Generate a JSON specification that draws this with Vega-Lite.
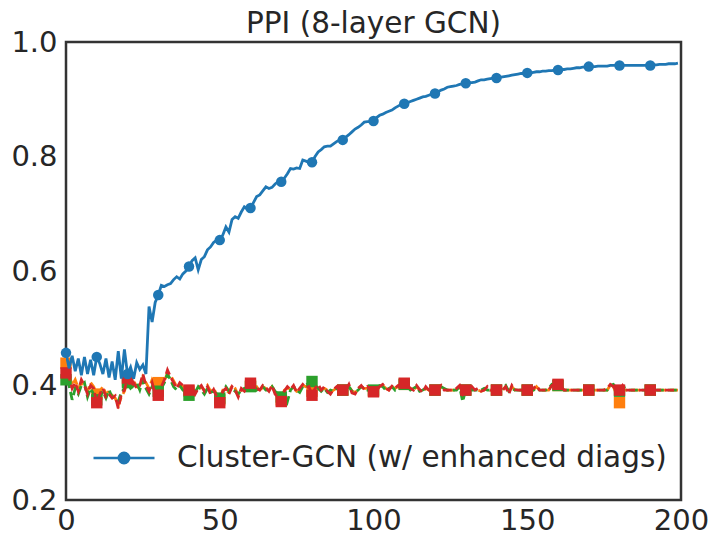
{
  "$schema": "https://vega.github.io/schema/vega-lite/v6.json",
  "autosize": "none",
  "width": 615,
  "height": 458,
  "padding": {"left": 66, "top": 42, "right": 31, "bottom": 35},
  "background": "white",
  "config": {
    "view": {"stroke": "#333333", "strokeWidth": 2.5},
    "font": "DejaVu Sans",
    "axis": {"domain": false, "ticks": false, "tickSize": 0, "grid": false, "title": null,
      "labelFont": "DejaVu Sans", "labelFontSize": 29, "labelColor": "#262626",
      "labelOverlap": false, "labelFlush": false, "labelBound": false}
  },
  "title": {"text": "PPI (8-layer GCN)", "font": "DejaVu Sans", "fontSize": 29.5, "fontWeight": "normal", "color": "#262626", "anchor": "middle", "frame": "group", "baseline": "bottom", "offset": -40},
  "data": {"values": [
{"e":0,"v":0.457,"a":0.439,"b":0.410,"c":0.422},
{"e":1,"v":0.430,"a":0.420,"b":0.400,"c":0.415},
{"e":2,"v":0.452,"a":0.400,"b":0.375,"c":0.395},
{"e":3,"v":0.425,"a":0.410,"b":0.395,"c":0.405},
{"e":4,"v":0.447,"a":0.395,"b":0.385,"c":0.390},
{"e":5,"v":0.418,"a":0.405,"b":0.400,"c":0.410},
{"e":6,"v":0.450,"a":0.398,"b":0.405,"c":0.400},
{"e":7,"v":0.420,"a":0.390,"b":0.380,"c":0.385},
{"e":8,"v":0.445,"a":0.405,"b":0.395,"c":0.400},
{"e":9,"v":0.418,"a":0.398,"b":0.385,"c":0.395},
{"e":10,"v":0.450,"a":0.385,"b":0.375,"c":0.370},
{"e":11,"v":0.438,"a":0.390,"b":0.380,"c":0.385},
{"e":12,"v":0.420,"a":0.398,"b":0.390,"c":0.395},
{"e":13,"v":0.447,"a":0.385,"b":0.378,"c":0.380},
{"e":14,"v":0.414,"a":0.390,"b":0.392,"c":0.385},
{"e":15,"v":0.442,"a":0.383,"b":0.380,"c":0.378},
{"e":16,"v":0.410,"a":0.378,"b":0.375,"c":0.382},
{"e":17,"v":0.460,"a":0.365,"b":0.372,"c":0.360},
{"e":18,"v":0.412,"a":0.380,"b":0.388,"c":0.385},
{"e":19,"v":0.463,"a":0.390,"b":0.395,"c":0.392},
{"e":20,"v":0.420,"a":0.408,"b":0.405,"c":0.413},
{"e":21,"v":0.432,"a":0.400,"b":0.395,"c":0.398},
{"e":22,"v":0.412,"a":0.408,"b":0.400,"c":0.405},
{"e":23,"v":0.440,"a":0.398,"b":0.405,"c":0.395},
{"e":24,"v":0.428,"a":0.395,"b":0.392,"c":0.400},
{"e":25,"v":0.436,"a":0.415,"b":0.410,"c":0.420},
{"e":26,"v":0.420,"a":0.405,"b":0.395,"c":0.400},
{"e":27,"v":0.538,"a":0.395,"b":0.385,"c":0.390},
{"e":28,"v":0.511,"a":0.410,"b":0.398,"c":0.405},
{"e":29,"v":0.545,"a":0.400,"b":0.392,"c":0.385},
{"e":30,"v":0.558,"a":0.405,"b":0.390,"c":0.383},
{"e":31,"v":0.575,"a":0.400,"b":0.395,"c":0.398},
{"e":32,"v":0.573,"a":0.408,"b":0.405,"c":0.410},
{"e":33,"v":0.576,"a":0.422,"b":0.420,"c":0.427},
{"e":34,"v":0.578,"a":0.418,"b":0.410,"c":0.415},
{"e":35,"v":0.585,"a":0.408,"b":0.398,"c":0.405},
{"e":36,"v":0.590,"a":0.398,"b":0.392,"c":0.395},
{"e":37,"v":0.586,"a":0.402,"b":0.400,"c":0.405},
{"e":38,"v":0.595,"a":0.398,"b":0.392,"c":0.400},
{"e":39,"v":0.600,"a":0.395,"b":0.388,"c":0.392},
{"e":40,"v":0.608,"a":0.390,"b":0.383,"c":0.392},
{"e":41,"v":0.618,"a":0.395,"b":0.392,"c":0.398},
{"e":42,"v":0.623,"a":0.390,"b":0.388,"c":0.385},
{"e":43,"v":0.602,"a":0.392,"b":0.398,"c":0.395},
{"e":44,"v":0.620,"a":0.398,"b":0.392,"c":0.400},
{"e":45,"v":0.625,"a":0.392,"b":0.385,"c":0.390},
{"e":46,"v":0.637,"a":0.400,"b":0.395,"c":0.398},
{"e":47,"v":0.642,"a":0.390,"b":0.388,"c":0.385},
{"e":48,"v":0.650,"a":0.395,"b":0.390,"c":0.393},
{"e":49,"v":0.654,"a":0.385,"b":0.385,"c":0.380},
{"e":50,"v":0.654,"a":0.375,"b":0.378,"c":0.370},
{"e":51,"v":0.663,"a":0.392,"b":0.388,"c":0.390},
{"e":52,"v":0.677,"a":0.392,"b":0.398,"c":0.395},
{"e":53,"v":0.668,"a":0.388,"b":0.390,"c":0.385},
{"e":54,"v":0.690,"a":0.400,"b":0.395,"c":0.398},
{"e":55,"v":0.695,"a":0.395,"b":0.390,"c":0.392},
{"e":56,"v":0.692,"a":0.383,"b":0.385,"c":0.380},
{"e":57,"v":0.703,"a":0.392,"b":0.392,"c":0.395},
{"e":58,"v":0.712,"a":0.392,"b":0.395,"c":0.390},
{"e":59,"v":0.708,"a":0.395,"b":0.392,"c":0.398},
{"e":60,"v":0.710,"a":0.400,"b":0.398,"c":0.404},
{"e":61,"v":0.720,"a":0.398,"b":0.402,"c":0.400},
{"e":62,"v":0.730,"a":0.398,"b":0.392,"c":0.395},
{"e":63,"v":0.733,"a":0.390,"b":0.395,"c":0.392},
{"e":64,"v":0.740,"a":0.398,"b":0.398,"c":0.400},
{"e":65,"v":0.747,"a":0.395,"b":0.392,"c":0.396},
{"e":66,"v":0.744,"a":0.392,"b":0.392,"c":0.390},
{"e":67,"v":0.746,"a":0.398,"b":0.398,"c":0.400},
{"e":68,"v":0.752,"a":0.388,"b":0.390,"c":0.385},
{"e":69,"v":0.756,"a":0.383,"b":0.385,"c":0.380},
{"e":70,"v":0.756,"a":0.375,"b":0.380,"c":0.372},
{"e":71,"v":0.762,"a":0.392,"b":0.388,"c":0.390},
{"e":72,"v":0.770,"a":0.395,"b":0.372,"c":0.398},
{"e":73,"v":0.779,"a":0.395,"b":0.392,"c":0.393},
{"e":74,"v":0.778,"a":0.398,"b":0.398,"c":0.400},
{"e":75,"v":0.780,"a":0.390,"b":0.392,"c":0.388},
{"e":76,"v":0.779,"a":0.392,"b":0.388,"c":0.395},
{"e":77,"v":0.794,"a":0.400,"b":0.398,"c":0.402},
{"e":78,"v":0.792,"a":0.398,"b":0.400,"c":0.396},
{"e":79,"v":0.790,"a":0.400,"b":0.405,"c":0.398},
{"e":80,"v":0.790,"a":0.390,"b":0.407,"c":0.383},
{"e":81,"v":0.800,"a":0.398,"b":0.400,"c":0.395},
{"e":82,"v":0.808,"a":0.400,"b":0.395,"c":0.402},
{"e":83,"v":0.812,"a":0.392,"b":0.390,"c":0.392},
{"e":84,"v":0.817,"a":0.395,"b":0.395,"c":0.398},
{"e":85,"v":0.818,"a":0.392,"b":0.388,"c":0.390},
{"e":86,"v":0.818,"a":0.388,"b":0.392,"c":0.385},
{"e":87,"v":0.822,"a":0.392,"b":0.390,"c":0.393},
{"e":88,"v":0.826,"a":0.395,"b":0.395,"c":0.398},
{"e":89,"v":0.829,"a":0.392,"b":0.395,"c":0.392},
{"e":90,"v":0.829,"a":0.392,"b":0.392,"c":0.392},
{"e":91,"v":0.834,"a":0.392,"b":0.395,"c":0.392},
{"e":92,"v":0.838,"a":0.400,"b":0.398,"c":0.402},
{"e":93,"v":0.843,"a":0.390,"b":0.390,"c":0.387},
{"e":94,"v":0.848,"a":0.388,"b":0.388,"c":0.385},
{"e":95,"v":0.851,"a":0.392,"b":0.392,"c":0.395},
{"e":96,"v":0.855,"a":0.398,"b":0.398,"c":0.400},
{"e":97,"v":0.860,"a":0.395,"b":0.395,"c":0.393},
{"e":98,"v":0.861,"a":0.395,"b":0.392,"c":0.398},
{"e":99,"v":0.861,"a":0.392,"b":0.395,"c":0.392},
{"e":100,"v":0.862,"a":0.390,"b":0.392,"c":0.389},
{"e":101,"v":0.868,"a":0.392,"b":0.395,"c":0.392},
{"e":102,"v":0.872,"a":0.398,"b":0.400,"c":0.398},
{"e":103,"v":0.874,"a":0.400,"b":0.398,"c":0.402},
{"e":104,"v":0.877,"a":0.395,"b":0.392,"c":0.395},
{"e":105,"v":0.879,"a":0.392,"b":0.395,"c":0.392},
{"e":106,"v":0.881,"a":0.398,"b":0.398,"c":0.399},
{"e":107,"v":0.885,"a":0.395,"b":0.392,"c":0.395},
{"e":108,"v":0.888,"a":0.398,"b":0.398,"c":0.400},
{"e":109,"v":0.891,"a":0.400,"b":0.400,"c":0.402},
{"e":110,"v":0.892,"a":0.402,"b":0.402,"c":0.404},
{"e":111,"v":0.894,"a":0.398,"b":0.398,"c":0.400},
{"e":112,"v":0.896,"a":0.395,"b":0.392,"c":0.395},
{"e":113,"v":0.898,"a":0.392,"b":0.395,"c":0.392},
{"e":114,"v":0.900,"a":0.398,"b":0.398,"c":0.400},
{"e":115,"v":0.902,"a":0.392,"b":0.390,"c":0.393},
{"e":116,"v":0.904,"a":0.390,"b":0.392,"c":0.388},
{"e":117,"v":0.905,"a":0.395,"b":0.395,"c":0.398},
{"e":118,"v":0.907,"a":0.392,"b":0.392,"c":0.392},
{"e":119,"v":0.909,"a":0.392,"b":0.390,"c":0.392},
{"e":120,"v":0.910,"a":0.392,"b":0.392,"c":0.392},
{"e":121,"v":0.913,"a":0.392,"b":0.392,"c":0.395},
{"e":122,"v":0.916,"a":0.398,"b":0.398,"c":0.400},
{"e":123,"v":0.918,"a":0.392,"b":0.395,"c":0.392},
{"e":124,"v":0.921,"a":0.392,"b":0.392,"c":0.392},
{"e":125,"v":0.922,"a":0.392,"b":0.392,"c":0.392},
{"e":126,"v":0.923,"a":0.392,"b":0.392,"c":0.392},
{"e":127,"v":0.924,"a":0.392,"b":0.392,"c":0.395},
{"e":128,"v":0.926,"a":0.398,"b":0.398,"c":0.400},
{"e":129,"v":0.927,"a":0.388,"b":0.372,"c":0.385},
{"e":130,"v":0.928,"a":0.392,"b":0.392,"c":0.392},
{"e":131,"v":0.929,"a":0.392,"b":0.395,"c":0.392},
{"e":132,"v":0.929,"a":0.395,"b":0.392,"c":0.398},
{"e":133,"v":0.930,"a":0.392,"b":0.392,"c":0.392},
{"e":134,"v":0.932,"a":0.392,"b":0.392,"c":0.395},
{"e":135,"v":0.934,"a":0.390,"b":0.392,"c":0.390},
{"e":136,"v":0.934,"a":0.392,"b":0.395,"c":0.392},
{"e":137,"v":0.935,"a":0.395,"b":0.392,"c":0.398},
{"e":138,"v":0.936,"a":0.392,"b":0.392,"c":0.392},
{"e":139,"v":0.937,"a":0.392,"b":0.392,"c":0.392},
{"e":140,"v":0.937,"a":0.392,"b":0.392,"c":0.392},
{"e":141,"v":0.938,"a":0.392,"b":0.392,"c":0.392},
{"e":142,"v":0.939,"a":0.392,"b":0.395,"c":0.392},
{"e":143,"v":0.940,"a":0.398,"b":0.400,"c":0.398},
{"e":144,"v":0.941,"a":0.388,"b":0.390,"c":0.385},
{"e":145,"v":0.942,"a":0.398,"b":0.395,"c":0.400},
{"e":146,"v":0.943,"a":0.392,"b":0.392,"c":0.393},
{"e":147,"v":0.944,"a":0.392,"b":0.392,"c":0.392},
{"e":148,"v":0.945,"a":0.392,"b":0.392,"c":0.392},
{"e":149,"v":0.945,"a":0.392,"b":0.392,"c":0.392},
{"e":150,"v":0.946,"a":0.392,"b":0.392,"c":0.392},
{"e":151,"v":0.946,"a":0.392,"b":0.392,"c":0.392},
{"e":152,"v":0.947,"a":0.392,"b":0.392,"c":0.395},
{"e":153,"v":0.948,"a":0.398,"b":0.395,"c":0.400},
{"e":154,"v":0.948,"a":0.392,"b":0.392,"c":0.392},
{"e":155,"v":0.949,"a":0.392,"b":0.392,"c":0.392},
{"e":156,"v":0.949,"a":0.392,"b":0.392,"c":0.392},
{"e":157,"v":0.950,"a":0.392,"b":0.395,"c":0.392},
{"e":158,"v":0.950,"a":0.400,"b":0.402,"c":0.400},
{"e":159,"v":0.951,"a":0.402,"b":0.400,"c":0.402},
{"e":160,"v":0.951,"a":0.400,"b":0.400,"c":0.402},
{"e":161,"v":0.952,"a":0.395,"b":0.395,"c":0.398},
{"e":162,"v":0.952,"a":0.392,"b":0.392,"c":0.392},
{"e":163,"v":0.953,"a":0.392,"b":0.392,"c":0.392},
{"e":164,"v":0.953,"a":0.392,"b":0.392,"c":0.392},
{"e":165,"v":0.954,"a":0.392,"b":0.392,"c":0.392},
{"e":166,"v":0.955,"a":0.392,"b":0.392,"c":0.392},
{"e":167,"v":0.955,"a":0.392,"b":0.392,"c":0.392},
{"e":168,"v":0.956,"a":0.392,"b":0.392,"c":0.392},
{"e":169,"v":0.956,"a":0.392,"b":0.392,"c":0.392},
{"e":170,"v":0.957,"a":0.392,"b":0.392,"c":0.392},
{"e":171,"v":0.957,"a":0.392,"b":0.392,"c":0.392},
{"e":172,"v":0.957,"a":0.392,"b":0.392,"c":0.392},
{"e":173,"v":0.958,"a":0.392,"b":0.392,"c":0.392},
{"e":174,"v":0.958,"a":0.392,"b":0.392,"c":0.392},
{"e":175,"v":0.958,"a":0.392,"b":0.392,"c":0.392},
{"e":176,"v":0.958,"a":0.392,"b":0.392,"c":0.395},
{"e":177,"v":0.959,"a":0.400,"b":0.400,"c":0.402},
{"e":178,"v":0.959,"a":0.398,"b":0.402,"c":0.398},
{"e":179,"v":0.959,"a":0.385,"b":0.395,"c":0.392},
{"e":180,"v":0.959,"a":0.370,"b":0.390,"c":0.392},
{"e":181,"v":0.959,"a":0.392,"b":0.398,"c":0.400},
{"e":182,"v":0.959,"a":0.392,"b":0.395,"c":0.392},
{"e":183,"v":0.959,"a":0.392,"b":0.392,"c":0.392},
{"e":184,"v":0.959,"a":0.392,"b":0.392,"c":0.392},
{"e":185,"v":0.959,"a":0.392,"b":0.392,"c":0.392},
{"e":186,"v":0.959,"a":0.392,"b":0.392,"c":0.392},
{"e":187,"v":0.959,"a":0.392,"b":0.392,"c":0.392},
{"e":188,"v":0.959,"a":0.392,"b":0.392,"c":0.392},
{"e":189,"v":0.959,"a":0.392,"b":0.392,"c":0.392},
{"e":190,"v":0.959,"a":0.392,"b":0.392,"c":0.392},
{"e":191,"v":0.960,"a":0.392,"b":0.392,"c":0.392},
{"e":192,"v":0.960,"a":0.392,"b":0.392,"c":0.392},
{"e":193,"v":0.961,"a":0.392,"b":0.392,"c":0.392},
{"e":194,"v":0.961,"a":0.392,"b":0.392,"c":0.392},
{"e":195,"v":0.961,"a":0.392,"b":0.392,"c":0.392},
{"e":196,"v":0.962,"a":0.392,"b":0.392,"c":0.392},
{"e":197,"v":0.962,"a":0.392,"b":0.392,"c":0.392},
{"e":198,"v":0.962,"a":0.392,"b":0.392,"c":0.392},
{"e":199,"v":0.963,"a":0.392,"b":0.392,"c":0.392}
  ]},
  "encoding": {
    "x": {"field": "e", "type": "quantitative", "scale": {"domain": [0, 200], "nice": false, "zero": false},
      "axis": {"values": [0, 50, 100, 150, 200], "labelPadding": 6}}
  },
  "layer": [
    {"mark": {"type": "line", "color": "#ff7f0e", "strokeWidth": 2.8, "strokeDash": [9, 4], "clip": true},
     "encoding": {"y": {"field": "a", "type": "quantitative", "scale": {"domain": [0.2, 1.0], "nice": false, "zero": false},
       "axis": {"values": [0.2, 0.4, 0.6, 0.8, 1.0], "format": ".1f", "labelPadding": 9}}}},
    {"transform": [{"filter": "datum.e % 10 == 0"}],
     "mark": {"type": "point", "shape": "square", "filled": true, "opacity": 1, "color": "#ff7f0e", "size": 130},
     "encoding": {"y": {"field": "a", "type": "quantitative"}}},
    {"mark": {"type": "line", "color": "#2ca02c", "strokeWidth": 2.8, "strokeDash": [9, 4], "clip": true},
     "encoding": {"y": {"field": "b", "type": "quantitative"}}},
    {"transform": [{"filter": "datum.e % 10 == 0"}],
     "mark": {"type": "point", "shape": "square", "filled": true, "opacity": 1, "color": "#2ca02c", "size": 130},
     "encoding": {"y": {"field": "b", "type": "quantitative"}}},
    {"mark": {"type": "line", "color": "#d62728", "strokeWidth": 2.8, "strokeDash": [9, 4], "clip": true},
     "encoding": {"y": {"field": "c", "type": "quantitative"}}},
    {"transform": [{"filter": "datum.e % 10 == 0"}],
     "mark": {"type": "point", "shape": "square", "filled": true, "opacity": 1, "color": "#d62728", "size": 130},
     "encoding": {"y": {"field": "c", "type": "quantitative"}}},
    {"mark": {"type": "line", "strokeWidth": 2.8, "clip": true},
     "encoding": {"y": {"field": "v", "type": "quantitative"},
       "color": {"datum": "Cluster-GCN (w/ enhanced diags)", "type": "nominal",
         "scale": {"range": ["#1f77b4"]},
         "legend": {"orient": "none", "legendX": 26, "legendY": 384, "title": null, "padding": 0,
           "symbolType": "M-1,0H1M0.17,0A0.17,0.17,0,1,1,-0.17,0A0.17,0.17,0,1,1,0.17,0Z",
           "symbolSize": 3721, "symbolStrokeWidth": 2.5, "symbolFillColor": "#1f77b4", "symbolStrokeColor": "#1f77b4",
           "labelFont": "DejaVu Sans", "labelFontSize": 29.5, "labelColor": "#262626", "labelOffset": 21, "labelLimit": 700}}}},
    {"transform": [{"filter": "datum.e % 10 == 0"}],
     "mark": {"type": "point", "shape": "circle", "filled": true, "opacity": 1, "color": "#1f77b4", "size": 110},
     "encoding": {"y": {"field": "v", "type": "quantitative"}}}
  ]
}
